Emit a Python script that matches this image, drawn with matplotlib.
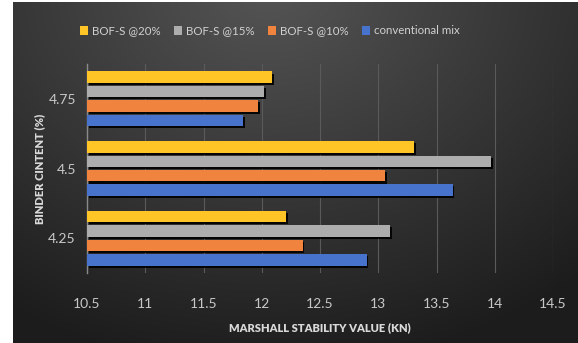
import numpy as np
import matplotlib
matplotlib.use("Agg")
import matplotlib.pyplot as plt
import matplotlib.patheffects as pe

categories = ["4.25", "4.5", "4.75"]
series_names = ["conventional mix", "BOF-S @10%", "BOF-S @15%", "BOF-S @20%"]
conventional = [12.90, 13.64, 11.84]
bof10 = [12.35, 13.06, 11.97]
bof15 = [13.10, 13.97, 12.02]
bof20 = [12.21, 13.31, 12.09]
colors = ["#4873CC", "#F0843F", "#ADADAD", "#FFC526"]
xticks = [10.5, 11, 11.5, 12, 12.5, 13, 13.5, 14, 14.5]

plt.rcParams['font.family'] = ['Lato', 'DejaVu Sans']

fig = plt.figure(figsize=(5.78, 3.43), dpi=100)
fig.patch.set_facecolor("white")

# background gradient
bg = fig.add_axes([13/578, 0, 1 - 13/578, 1 - 2/343])
bg.set_axis_off()
h, w = 341, 565
yy, xx = np.mgrid[0:h, 0:w]
cx, cy = 0.45 * w, -0.05 * h
d = np.sqrt(((xx - cx) / w) ** 2 + ((yy - cy) / h * 0.75) ** 2)
d = np.clip(d / 0.85, 0, 1)
top = np.array([0x55, 0x55, 0x55]) / 255
edge = np.array([0x1c, 0x1c, 0x1c]) / 255
img = top[None, None, :] * (1 - d[..., None]) + edge[None, None, :] * d[..., None]
bg.imshow(img, aspect="auto", extent=[0, 1, 0, 1])
bg.set_xlim(0, 1); bg.set_ylim(0, 1)

ax = fig.add_axes([87/578, 1 - 273/343, (553 - 87)/578, (273 - 64)/343])
ax.patch.set_alpha(0)

y = np.arange(len(categories))
step = 0.207
bh = 0.165
data = [conventional, bof10, bof15, bof20]
shadow = [pe.SimplePatchShadow(offset=(1.2, -1.5), shadow_rgbFace="black", alpha=0.9), pe.Normal()]
for i, (vals, c, name) in enumerate(zip(data, colors, series_names)):
    off = (i - 1.5) * step
    ax.barh(y + off, np.array(vals) - 10.5, left=10.5, height=bh, color=c,
            label=name, path_effects=shadow, zorder=3)

ax.set_xlim(10.5, 14.5)
ax.set_ylim(-0.5, 2.5)
ax.set_xticks(xticks)
ax.set_xticklabels([f"{t:g}" for t in xticks])
ax.set_yticks(y)
ax.set_yticklabels(categories)
ax.tick_params(length=0, colors="#c8c8c8", labelsize=10)
ax.tick_params(axis="x", pad=18)
ax.tick_params(axis="y", pad=8)
ax.grid(axis="x", color="#5a5a5a", linewidth=0.8, zorder=0)
for s in ["top", "right", "bottom"]:
    ax.spines[s].set_visible(False)
ax.spines["left"].set_color("#8a8a8a")
ax.spines["left"].set_linewidth(1)

ax.set_xlabel("MARSHALL STABILITY VALUE (KN)", color="#d9d9d9", fontsize=8,
              fontweight="heavy", labelpad=9)
ax.set_ylabel("BINDER CINTENT (%)", color="#d9d9d9", fontsize=8,
              fontweight="heavy", labelpad=2)

handles, labels = ax.get_legend_handles_labels()
leg = fig.legend(handles[::-1], labels[::-1], loc="center", bbox_to_anchor=(270/578, 1 - 31/343),
                 ncol=4, frameon=False, fontsize=8.3, labelcolor="#d0d0d0",
                 handlelength=0.7, handleheight=0.7, handletextpad=0.3, columnspacing=1.2)
for hnd in leg.legend_handles:
    hnd.set_path_effects([])

fig.savefig("out.png", dpi=100)
